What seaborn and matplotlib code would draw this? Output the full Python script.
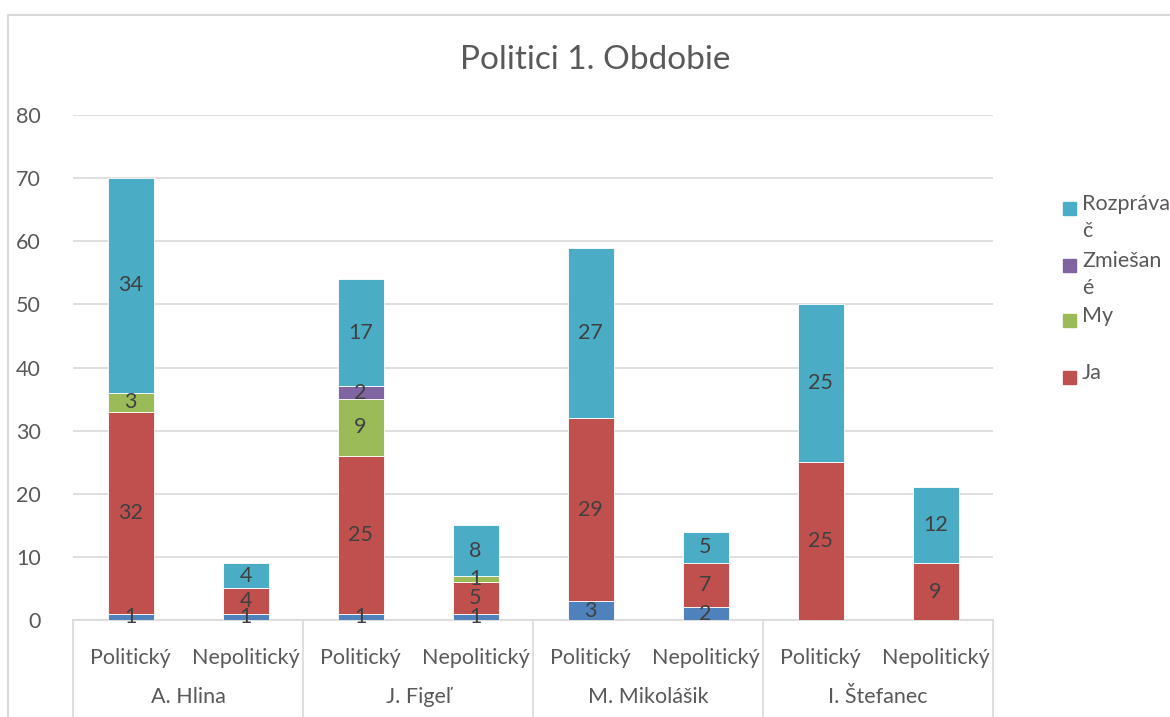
import matplotlib
matplotlib.use("Agg")
import matplotlib.pyplot as plt
import matplotlib.patches as mpatches
import matplotlib.transforms as mtransforms
import numpy as np
import pandas as pd
import seaborn as sns

# --- data -------------------------------------------------------------
politicians = ["A. Hlina", "J. Figeľ", "M. Mikolášik", "I. Štefanec"]
types = ["Politický", "Nepolitický"]

series_names = ["", "Ja", "My", "Zmiešané", "Rozprávač"]
blue_vals = [1, 1, 1, 1, 3, 2, 0, 0]
ja_vals = [32, 4, 25, 5, 29, 7, 25, 9]
my_vals = [3, 0, 9, 1, 0, 0, 0, 0]
zmiesane_vals = [0, 0, 2, 0, 0, 0, 0, 0]
rozpravac_vals = [34, 4, 17, 8, 27, 5, 25, 12]

colors = ["#4F81BD", "#C0504D", "#9BBB59", "#8064A2", "#4BACC6"]
text_col = "#595959"
label_col = "#404040"
grid_col = "#D9D9D9"
fs = 15.5

sns.set_theme(style="white")
plt.rcParams["font.family"] = ["Lato", "DejaVu Sans"]

W, H = 1170, 717
fig = plt.figure(figsize=(W / 100, H / 100), dpi=100)
ax = fig.add_axes([73 / W, 97 / H, 920 / W, 505 / H])

keys = [f"{p}|{t}" for p in politicians for t in types]
all_series = [blue_vals, ja_vals, my_vals, zmiesane_vals, rozpravac_vals]

bottom = np.zeros(len(keys))
for vals, col in zip(all_series, colors):
    vals = np.array(vals, dtype=float)
    df = pd.DataFrame({"key": keys, "val": vals})
    sns.barplot(data=df, x="key", y="val", order=keys, color=col,
                width=0.4, bottom=bottom, ax=ax, saturation=1,
                edgecolor="white", linewidth=0.6, zorder=3)
    cont = ax.containers[-1]
    labels = [f"{int(v)}" if v > 0 else "" for v in vals]
    ax.bar_label(cont, labels=labels, label_type="center",
                 fontsize=fs, color=label_col, zorder=4)
    bottom = bottom + vals

# --- axes styling -------------------------------------------------------
ax.set_xlim(-0.5, len(keys) - 0.5)
ax.set_ylim(0, 80)
ax.set_yticks(range(0, 81, 10))
ax.yaxis.grid(True, color=grid_col, linewidth=1.2, zorder=0)
ax.set_axisbelow(True)
for s in ["top", "right", "left"]:
    ax.spines[s].set_visible(False)
ax.spines["bottom"].set_color(grid_col)
ax.spines["bottom"].set_linewidth(1.2)
ax.tick_params(axis="y", length=0, pad=23, labelsize=fs, labelcolor=text_col)
ax.tick_params(axis="x", length=0, pad=20, labelsize=fs, labelcolor=text_col)
ax.set_xticks(range(len(keys)))
ax.set_xticklabels([t for p in politicians for t in types])
ax.set_xlabel("")
ax.set_ylabel("")

# group labels and separators below the axis
trans = mtransforms.blended_transform_factory(ax.transData, ax.transAxes)
for i, p in enumerate(politicians):
    ax.text(2 * i + 0.5, -77 / 505, p, transform=trans, ha="center",
            va="center", fontsize=fs, color=text_col)
for xs in np.arange(-0.5, len(keys), 2):
    ax.plot([xs, xs], [0, -110 / 505], transform=trans, color=grid_col,
            linewidth=1.2, clip_on=False)

# title
fig.text(595 / W, 1 - 60 / H, "Politici 1. Obdobie", ha="center",
         va="center", fontsize=24, color=text_col)

# legend (reverse stacking order, labels wrapped onto two lines)
legend_items = [("Rozpráva\nč", colors[4], 208),
                ("Zmiešan\né", colors[3], 265),
                ("My", colors[2], 320),
                ("Ja", colors[1], 377)]
for lab, col, yc in legend_items:
    fig.patches.append(mpatches.Rectangle((1063 / W, 1 - (yc + 7) / H),
                                          13 / W, 13 / H, color=col,
                                          transform=fig.transFigure))
    fig.text(1082 / W, 1 - (yc - 14) / H, lab, ha="left", va="top",
             fontsize=fs, color=text_col, linespacing=1.45)

# chart frame
fig.patches.append(mpatches.Rectangle((8 / W, -0.05), 1.2, 1 - 15 / H + 0.05,
                                      fill=False, edgecolor=grid_col,
                                      linewidth=1.5, transform=fig.transFigure))

fig.savefig("out.png", dpi=100)
